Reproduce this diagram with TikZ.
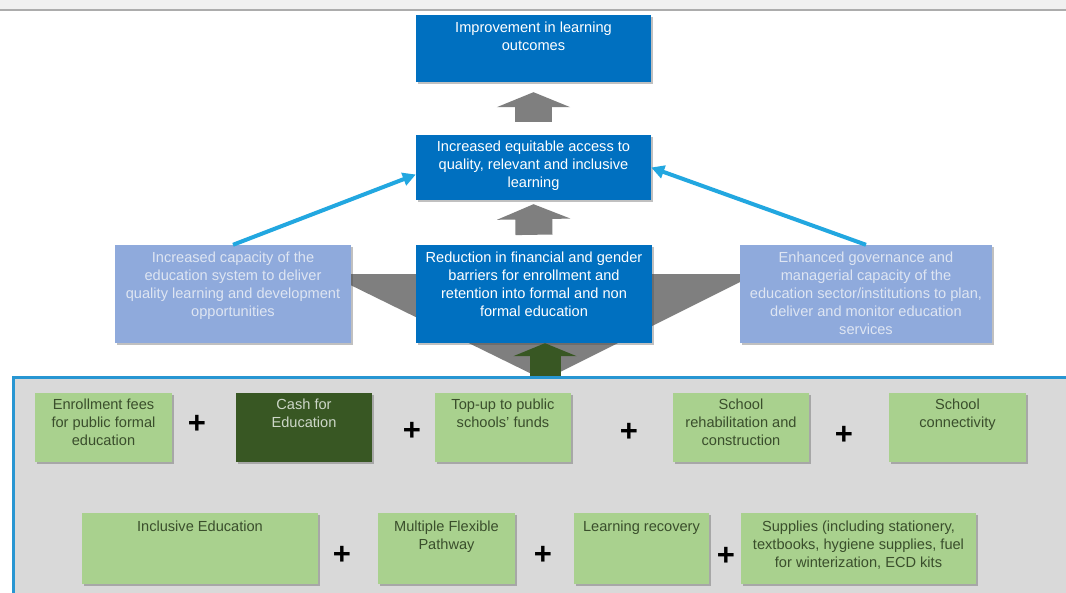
\documentclass[tikz,border=0pt]{standalone}
\usepackage{fontspec}
\setmainfont{Liberation Sans}
\usetikzlibrary{arrows.meta,shadows}
\definecolor{cBlue}{RGB}{0,112,192}
\definecolor{cLight}{RGB}{143,170,220}
\definecolor{cLightTxt}{RGB}{222,229,242}
\definecolor{cGreyArr}{RGB}{127,127,127}
\definecolor{cConn}{RGB}{34,167,224}
\definecolor{cPanel}{RGB}{40,150,210}
\definecolor{cPanelFill}{RGB}{217,217,217}
\definecolor{cGreen}{RGB}{169,209,142}
\definecolor{cDark}{RGB}{56,87,35}
\definecolor{cGreenTxt}{RGB}{58,78,44}
\definecolor{cCashTxt}{RGB}{205,215,200}
\tikzset{
  shad/.style={drop shadow={shadow xshift=2pt, shadow yshift=-2pt, opacity=0.35, fill=black!70}},
  bbox/.style={rectangle, fill=cBlue, inner sep=0pt, shad},
  lbox/.style={rectangle, fill=cLight, inner sep=0pt, shad},
  gbox/.style={rectangle, fill=cGreen, inner sep=0pt, shad},
  dbox/.style={rectangle, fill=cDark, inner sep=0pt, shad},
  lbl/.style={anchor=north, align=center, inner sep=0pt, font=\fontsize{14.6}{18}\selectfont},
  plus/.style={inner sep=0pt, font=\fontsize{31}{31}\selectfont\bfseries},
  fatarrow/.style={draw=cGreyArr, line width=37pt, -{Triangle[width=73pt,length=15pt]}},
  conn/.style={draw=cConn, line width=4pt, -{Triangle[width=13pt,length=13pt]}},
}
\begin{document}
\begin{tikzpicture}[x=1pt,y=-1pt]
\useasboundingbox (0,0) rectangle (1066,592);
\fill[white] (0,0) rectangle (1066,592);
% top strip
\fill[gray!12] (0,0) rectangle (1066,9);
\draw[gray!65, line width=1.5pt] (0,10) -- (1066,10);

% big grey funnel
\fill[cGreyArr] (328,274) -- (756,274) -- (544,380) -- cycle;

% bottom panel
\node[draw=cPanel, line width=3pt, fill=cPanelFill, anchor=north west, minimum width=1080pt, minimum height=240pt, inner sep=0pt] (panel) at (12,376) {};

% top boxes
\node[bbox, minimum width=235pt, minimum height=67pt] (top) at (533.5,48.5) {};
\node[lbl, text=white] at ([yshift=-7pt]top.north) {Improvement in learning\\outcomes};
\node[bbox, minimum width=235pt, minimum height=65pt] (mid) at (533.5,167.5) {};
\node[lbl, text=white] at ([yshift=-6pt]mid.north) {Increased equitable access to\\quality, relevant and inclusive\\learning};

\node[lbox, minimum width=236pt, minimum height=98pt] (left) at (233,294) {};
\node[lbl, text=cLightTxt] at ([yshift=-7pt]left.north) {Increased capacity of the\\education system to deliver\\quality learning and development\\opportunities};
\node[lbox, minimum width=252pt, minimum height=98pt] (right) at (866,294) {};
\node[lbl, text=cLightTxt] at ([yshift=-7pt]right.north) {Enhanced governance and\\managerial capacity of the\\education sector/institutions to plan,\\deliver and monitor education\\services};
\node[bbox, minimum width=236pt, minimum height=98pt] (red) at (534,294) {};
\node[lbl, text=white] at ([yshift=-7pt]red.north) {Reduction in financial and gender\\barriers for enrollment and\\retention into formal and non\\formal education};

% grey arrows
\draw[fatarrow] ([yshift=13pt]mid.north) -- ([yshift=-10pt]top.south);
\draw[fatarrow] ([yshift=10pt]red.north) -- ([yshift=-4pt]mid.south);
% green arrow
\coordinate (gbase) at (545,376);
\draw[draw=cDark, line width=31pt, -{Triangle[width=63pt,length=13pt]}] (gbase) -- (gbase |- red.south);

% blue connectors
\draw[conn] (left.north) -- ([yshift=-7pt]mid.west);
\draw[conn] (right.north) -- (mid.east);

% row 1
\node[gbox, minimum width=137pt, minimum height=69pt] (enr) at (103.5,427.5) {};
\node[lbl, text=cGreenTxt] at ([yshift=-6pt]enr.north) {Enrollment fees\\for public formal\\education};
\node[dbox, minimum width=136pt, minimum height=69pt] (cash) at (304,427.5) {};
\node[lbl, text=cCashTxt] at ([yshift=-6pt]cash.north) {Cash for\\Education};
\node[gbox, minimum width=136pt, minimum height=69pt] (topup) at (503,427.5) {};
\node[lbl, text=cGreenTxt] at ([yshift=-6pt]topup.north) {Top-up to public\\schools' funds};
\node[gbox, minimum width=136pt, minimum height=69pt] (rehab) at (741,427.5) {};
\node[lbl, text=cGreenTxt] at ([yshift=-6pt]rehab.north) {School\\rehabilitation and\\construction};
\node[gbox, minimum width=137pt, minimum height=69pt] (conn) at (957.5,427.5) {};
\node[lbl, text=cGreenTxt] at ([yshift=-6pt]conn.north) {School\\connectivity};

% row 2
\node[gbox, minimum width=236pt, minimum height=71pt] (incl) at (200,548.5) {};
\node[lbl, text=cGreenTxt] at ([yshift=-8pt]incl.north) {Inclusive Education};
\node[gbox, minimum width=137pt, minimum height=71pt] (mult) at (446.5,548.5) {};
\node[lbl, text=cGreenTxt] at ([yshift=-8pt]mult.north) {Multiple Flexible\\Pathway};
\node[gbox, minimum width=135pt, minimum height=71pt] (learn) at (641.5,548.5) {};
\node[lbl, text=cGreenTxt] at ([yshift=-8pt]learn.north) {Learning recovery};
\node[gbox, minimum width=235pt, minimum height=71pt] (supp) at (858.5,548.5) {};
\node[lbl, text=cGreenTxt] at ([yshift=-8pt]supp.north) {Supplies (including stationery,\\textbooks, hygiene supplies, fuel\\for winterization, ECD kits};

% plus signs
\node[plus] (p1) at (197,424) {+};
\node[plus] (p2) at (412,431) {+};
\node[plus] (p3) at (629,432) {+};
\node[plus] (p4) at (844,435) {+};
\node[plus] (p5) at (342,555) {+};
\node[plus] (p6) at (543,555) {+};
\node[plus] (p7) at (726,556) {+};
\end{tikzpicture}
\end{document}
